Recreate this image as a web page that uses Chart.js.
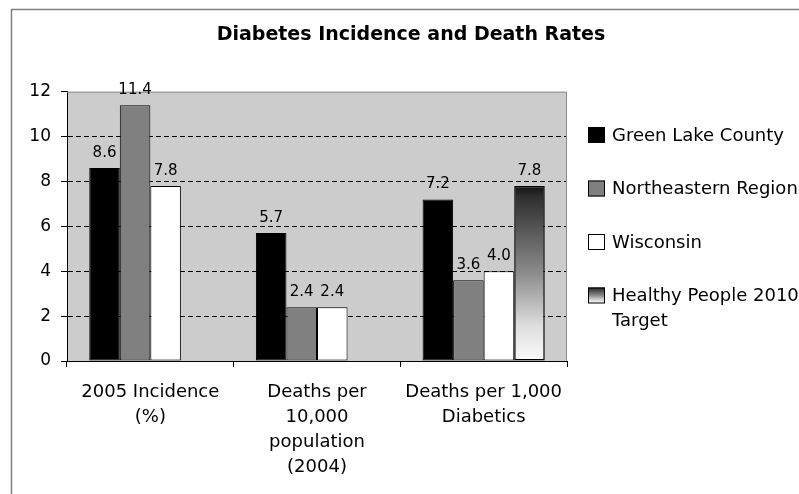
<!DOCTYPE html>
<html>
<head>
<meta charset="utf-8">
<script src="https://cdn.jsdelivr.net/npm/chart.js@4"></script>
<style>
html, body { margin: 0; padding: 0; overflow: hidden; background: #fff; }
canvas { display: block; }
</style>
</head>
<body>
<canvas id="grafico" width="822" height="510"></canvas>
<script>
var titulo = "Diabetes Incidence and Death Rates";
var categorias = [["2005 Incidence", "(%)"], ["Deaths per", "10,000", "population", "(2004)"], ["Deaths per 1,000", "Diabetics"]];
var nomes = ["Green Lake County", "Northeastern Region", "Wisconsin", ["Healthy People 2010", "Target"]];
var greenLake = [8.6, 5.7, 7.2];
var nordeste = [11.4, 2.4, 3.6];
var wisconsin = [7.8, 2.4, 4.0];
var healthyPeople = [null, null, 7.8];
var ticksY = [0, 2, 4, 6, 8, 10, 12];

var fonte = "'DejaVu Sans', sans-serif";

// gradiente da barra "Healthy People" (escuro em cima, branco embaixo)
function degrade(ctx, topo, base) {
    var g = ctx.createLinearGradient(0, topo, 0, base);
    g.addColorStop(0, '#111111');
    g.addColorStop(0.06, '#2e2e2e');
    g.addColorStop(0.5, '#8c8c8c');
    g.addColorStop(0.8, '#dedede');
    g.addColorStop(1, '#fbfbfb');
    return g;
}

function corHealthy(context) {
    var chart = context.chart;
    if (!chart.chartArea || context.raw == null) return '#808080';
    var y = chart.scales.y;
    return degrade(chart.ctx, y.getPixelForValue(context.raw), y.getPixelForValue(0));
}

// fundo cinza da area do grafico e moldura externa
var fundo = {
    id: 'fundo',
    beforeDraw: function(chart) {
        var ctx = chart.ctx, a = chart.chartArea;
        ctx.save();
        ctx.fillStyle = '#cccccc';
        ctx.fillRect(a.left, a.top, a.right - a.left, a.bottom - a.top);
        ctx.strokeStyle = '#7f7f7f';
        ctx.lineWidth = 1.5;
        ctx.strokeRect(11.5, 9.5, 800, 600);
        ctx.restore();
    },
    beforeDatasetsDraw: function(chart) {
        var ctx = chart.ctx, a = chart.chartArea;
        ctx.save();
        ctx.strokeStyle = '#8a8a8a';
        ctx.lineWidth = 1;
        ctx.beginPath();
        ctx.moveTo(a.left, a.top + 0.5);
        ctx.lineTo(a.right - 0.5, a.top + 0.5);
        ctx.lineTo(a.right - 0.5, a.bottom);
        ctx.stroke();
        ctx.restore();
    }
};

// rotulos de valor em cima das barras
var rotulos = {
    id: 'rotulos',
    afterDatasetsDraw: function(chart) {
        var ctx = chart.ctx;
        ctx.save();
        ctx.font = '15px ' + fonte;
        ctx.fillStyle = '#000';
        ctx.textAlign = 'center';
        ctx.textBaseline = 'middle';
        chart.data.datasets.forEach(function(ds, i) {
            chart.getDatasetMeta(i).data.forEach(function(el, j) {
                var v = ds.data[j];
                if (v == null) return;
                ctx.fillText(v.toFixed(1), el.x, el.y - 15);
            });
        });
        ctx.restore();
    }
};

// legenda do lado direito
var legenda = {
    id: 'legenda',
    afterDraw: function(chart) {
        var ctx = chart.ctx;
        var x = chart.chartArea.right + 21;
        var y0 = 135, passo = 53.5;
        ctx.save();
        ctx.font = '18px ' + fonte;
        ctx.textBaseline = 'middle';
        ctx.textAlign = 'left';
        chart.data.datasets.forEach(function(ds, i) {
            var y = y0 + i * passo;
            if (i == 3) {
                ctx.fillStyle = degrade(ctx, y - 8, y + 8);
            } else {
                ctx.fillStyle = ds.backgroundColor;
            }
            ctx.fillRect(x, y - 8, 17, 16);
            ctx.strokeStyle = '#000';
            ctx.lineWidth = 1;
            ctx.strokeRect(x + 0.5, y - 7.5, 16, 15);
            ctx.fillStyle = '#000';
            var linhas = Array.isArray(ds.label) ? ds.label : [ds.label];
            linhas.forEach(function(t, k) {
                ctx.fillText(t, x + 24, y + 1 + k * 25);
            });
        });
        ctx.restore();
    }
};

var ctx = document.getElementById('grafico').getContext('2d');
var chart = new Chart(ctx, {
    type: 'bar',
    data: {
        labels: categorias,
        datasets: [{
            label: nomes[0],
            data: greenLake,
            backgroundColor: '#000000',
            borderColor: '#000000',
            borderWidth: 1
        }, {
            label: nomes[1],
            data: nordeste,
            backgroundColor: '#808080',
            borderColor: '#000000',
            borderWidth: 1
        }, {
            label: nomes[2],
            data: wisconsin,
            backgroundColor: '#ffffff',
            borderColor: '#000000',
            borderWidth: 1
        }, {
            label: nomes[3],
            data: healthyPeople,
            backgroundColor: corHealthy,
            borderColor: '#000000',
            borderWidth: 1.5
        }]
    },
    plugins: [fundo, rotulos, legenda],
    options: {
        responsive: false,
        animation: false,
        devicePixelRatio: 1,
        layout: { padding: 0 },
        datasets: {
            bar: { categoryPercentage: 0.733, barPercentage: 1.0, borderSkipped: false }
        },
        plugins: {
            legend: { display: false },
            tooltip: { enabled: false },
            title: {
                display: true,
                text: titulo,
                color: '#000',
                font: { family: fonte, size: 19, weight: 'bold', lineHeight: 1.2 },
                padding: { top: 23.6, bottom: 45.3 }
            }
        },
        scales: {
            x: {
                grid: { display: true, drawOnChartArea: false, drawTicks: true, tickLength: 6, color: '#000', offset: true },
                border: { display: true, color: '#000', width: 1 },
                ticks: {
                    color: '#000',
                    font: { family: fonte, size: 18, lineHeight: 1.38 },
                    padding: 13,
                    maxRotation: 0,
                    autoSkip: false
                },
                afterFit: function(s) { s.height = 510 - 361; }
            },
            y: {
                min: 0,
                max: 12,
                afterBuildTicks: function(s) { s.ticks = ticksY.map(function(v) { return { value: v }; }); },
                ticks: {
                    color: '#000',
                    font: { family: fonte, size: 17 },
                    padding: 10
                },
                grid: {
                    color: function(c) {
                        if (c.tick && (c.tick.value === 0 || c.tick.value === 12)) return 'rgba(0,0,0,0)';
                        return '#000';
                    },
                    tickColor: '#000',
                    tickLength: 6,
                    tickBorderDash: []
                },
                border: { display: true, color: '#000', width: 1, dash: [5, 3] },
                afterFit: function(s) { s.width = 67; }
            },
            y2: {
                type: 'linear',
                position: 'right',
                min: 0,
                max: 12,
                grid: { display: false },
                border: { display: false },
                ticks: { display: false },
                afterFit: function(s) { s.width = 255; }
            }
        }
    }
});
</script>
</body>
</html>
